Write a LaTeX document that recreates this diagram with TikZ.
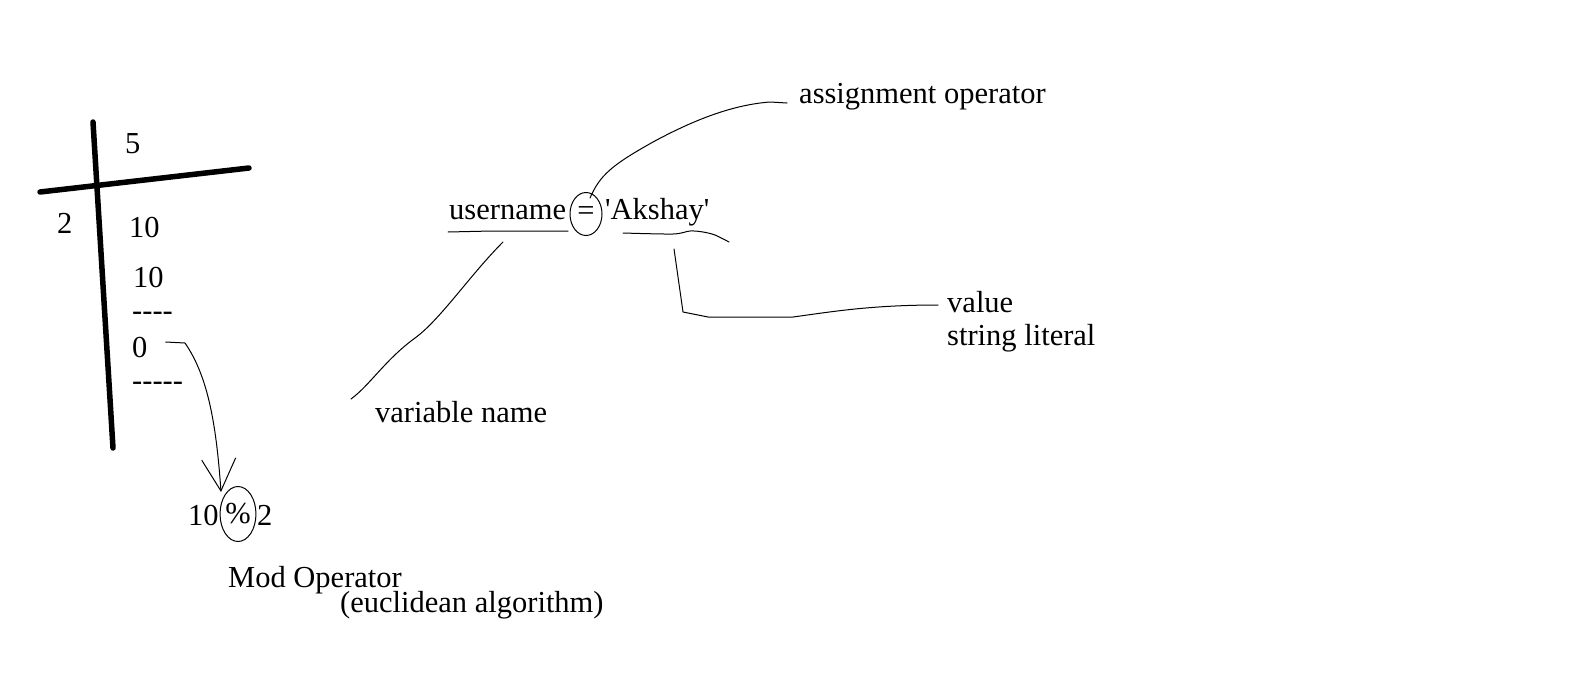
\documentclass[tikz,border=0pt]{standalone}
\usepackage{fontspec}
\setmainfont{Liberation Serif}
\usepackage{tikz}
\usetikzlibrary{arrows.meta,positioning,shapes,calc}

\begin{document}
\begin{tikzpicture}[x=1pt,y=-1pt,
  txt/.style={font=\fontsize{30.5}{36}\selectfont,inner sep=0pt,anchor=base west},
  pen/.style={line width=1pt,line join=round,line cap=round},
  chalk/.style={line width=5.5pt,line cap=round},
  loop/.style={ellipse,draw,line width=1pt,inner sep=0pt,font=\fontsize{30.5}{36}\selectfont}]
\useasboundingbox (0,0) rectangle (1590,688);

% Division by two
\draw[chalk] (93,122) -- (113,448);
\draw[chalk] (40,192) -- (249,168);
\node[txt] (quot) at (125,153) {5};
\node[txt] (divisor) at (57,233) {2};
\node[txt] (dividend) at (129,237) {10};
\node[txt] (prod) at (133,287) {10};
\node[txt] (rule1) at (132,320) {-\kern0pt-\kern0pt-\kern0pt-};
\node[txt] (rem) at (132,357) {0};
\node[txt] (rule2) at (132,390) {-\kern0pt-\kern0pt-\kern0pt-\kern0pt-};

% Mod operator
\node[txt] (ten) at (188,525) {10};
\node[loop,minimum width=30pt,minimum height=55pt] (pct) at (238,514) {\%};
\node[txt] (two) at (257,525) {2};
\node[txt] (modname) at (228,587) {Mod Operator};
\node[txt] (euclid) at (340,612) {(euclidean algorithm)};
\draw[pen,-{Straight Barb[length=32pt,width=34pt]}] ([xshift=18pt,yshift=5pt]rem.east) -- (185,343)
  .. controls (207,375) and (216,420) .. ([xshift=-17pt,yshift=-6pt]pct.north);

% Assignment
\node[txt] (varname) at (449,219) {username};
\node[loop,minimum width=32pt,minimum height=43pt] (eq) at (586,214) {=};
\node[txt] (val) at (605,219) {\textquotesingle Akshay\textquotesingle};
\draw[pen] (448,232) -- (492,231) -- (568,231);
\draw[pen] plot[smooth] coordinates {(623,233) (673,234) (690,231) (703,232) (715,235) (729,242)};

% Labels
\node[txt] (assign) at (799,103) {assignment operator};
\draw[pen] ([xshift=4pt,yshift=16pt]eq.center) .. controls (600,175) and (612,165) .. (653,142)
  .. controls (690,122) and (730,105) .. (770,102) -- ([xshift=-12pt]assign.base west);

\node[txt] (vname) at (375,422) {variable name};
\coordinate (vtop) at (503,242);
\draw[pen] (vtop) .. controls (470,275) and (440,320) .. (415,338)
  .. controls (385,360) and (370,385) .. ([xshift=-24pt,yshift=23pt]vname.base west);

\node[txt] (valname) at (947,312) {value};
\node[txt] (lit) at (947,345) {string literal};
\coordinate (atop) at (674,249);
\draw[pen] (atop) -- (683,312) -- (708,317) -- (793,317)
  .. controls (830,312) and (870,305) .. ([xshift=-9pt,yshift=7pt]valname.base west);
\end{tikzpicture}
\end{document}
